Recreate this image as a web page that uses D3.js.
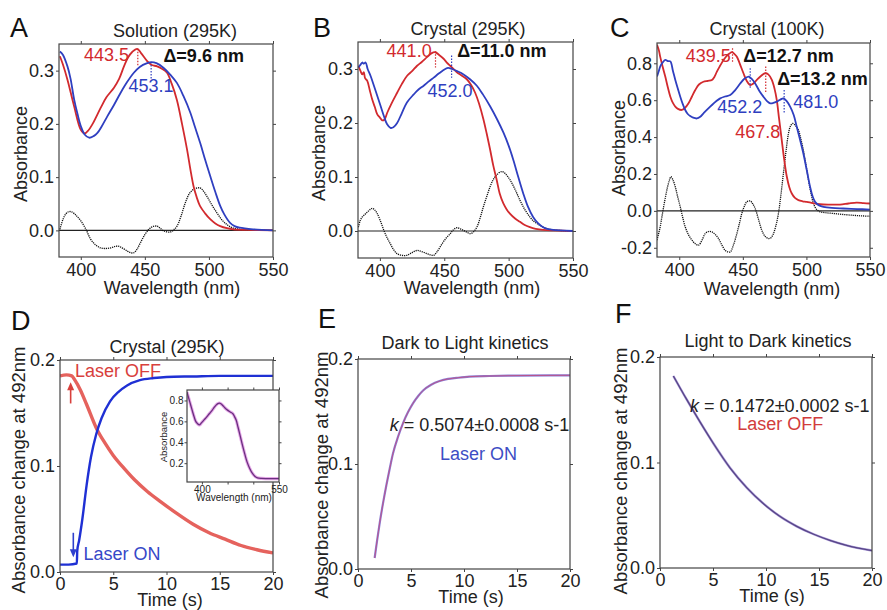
<!DOCTYPE html>
<html>
<head>
<meta charset="utf-8">
<script src="https://cdn.jsdelivr.net/npm/d3@7"></script>
<style>
  body { margin: 0; background: #fff; }
  svg { font-family: "Liberation Sans", Arial, Helvetica, sans-serif; }
</style>
</head>
<body>
<svg id="fig" width="887" height="610"></svg>
<script>
// ---- data: [wavelength nm, absorbance] ----
const aRed = [[383.7,0.327],[386,0.312],[389.6,0.283],[394.8,0.233],[400,0.189],[403,0.182],[406,0.188],[409,0.199],[415.5,0.23],[420,0.25],[425.9,0.268],[430,0.285],[433.7,0.308],[437,0.325],[440.1,0.335],[444,0.341],[447,0.333],[451.8,0.318],[455,0.311],[459.6,0.308],[463,0.304],[467.3,0.296],[471,0.275],[475,0.245],[479,0.2],[482.9,0.152],[486,0.108],[488,0.083],[490.5,0.062],[493,0.046],[497,0.032],[501,0.021],[505,0.013],[508.8,0.008],[514,0.004],[519,0.002],[530,0.001],[550,0]];
const aBlue = [[383.7,0.336],[386,0.33],[389.6,0.308],[392,0.285],[394.8,0.246],[397.5,0.218],[400,0.196],[403,0.18],[406.5,0.174],[410,0.177],[413,0.183],[416.5,0.196],[420.7,0.214],[426,0.236],[431,0.258],[436,0.278],[441.4,0.296],[446,0.307],[451.8,0.314],[455,0.316],[459,0.314],[464.7,0.305],[470,0.292],[475,0.277],[480,0.253],[485.5,0.221],[489,0.195],[493.2,0.164],[497,0.133],[501,0.102],[505,0.072],[508.8,0.046],[512,0.03],[516.5,0.014],[520,0.008],[524,0.005],[534.7,0.002],[550,0]];
const aDiff = [[383.7,0.002],[386,0.02],[388.3,0.031],[390.5,0.035],[392.7,0.035],[396,0.029],[400,0.018],[404,0.002],[407.8,-0.017],[411.5,-0.027],[415.5,-0.033],[419,-0.034],[423.3,-0.033],[427,-0.03],[429.8,-0.03],[433,-0.034],[436.3,-0.039],[439,-0.042],[441.4,-0.042],[444,-0.035],[446.6,-0.023],[450,-0.008],[453.1,0.002],[456,0.007],[459.6,0.008],[462,0.004],[464.7,-0.001],[469.9,-0.003],[472.5,0.001],[475.1,0.008],[478,0.025],[481.6,0.052],[485,0.07],[488.1,0.077],[492.5,0.08],[495,0.076],[498.4,0.064],[502,0.049],[506.2,0.033],[510,0.02],[514,0.011],[518,0.005],[521.7,0.003],[528,0.001],[550,0]];

const bRed = [[383.3,0.306],[385,0.296],[386.3,0.29],[387.5,0.294],[388.5,0.283],[390.2,0.278],[392,0.262],[394,0.244],[396,0.23],[398,0.216],[400,0.21],[401.8,0.205],[403.5,0.206],[405.7,0.219],[409,0.236],[413.4,0.256],[417,0.272],[421,0.287],[425,0.296],[428.9,0.306],[432.5,0.313],[436.6,0.322],[440,0.329],[443,0.331],[446,0.326],[449.5,0.319],[452,0.312],[454.6,0.306],[459.8,0.294],[463.5,0.288],[467.5,0.281],[471,0.27],[474,0.256],[477,0.236],[480.4,0.207],[483,0.18],[485.6,0.151],[488,0.122],[490.7,0.095],[493,0.07],[495.9,0.051],[498.5,0.04],[501,0.032],[505,0.023],[508.8,0.017],[512.5,0.011],[516.5,0.007],[521,0.004],[526.8,0.002],[535,0.001],[550,0]];
const bBlue = [[383.3,0.303],[385,0.308],[386.3,0.312],[387.5,0.31],[388.9,0.312],[390.5,0.3],[392.8,0.287],[395.5,0.268],[398,0.25],[400.5,0.232],[403.1,0.213],[405.5,0.198],[408.2,0.191],[410.5,0.192],[413.4,0.2],[417,0.218],[421,0.238],[426.3,0.253],[430,0.262],[434,0.269],[438,0.277],[441.8,0.284],[446,0.292],[450.8,0.3],[453,0.302],[456,0.3],[460,0.296],[465,0.29],[470,0.281],[475.3,0.269],[480,0.253],[485.6,0.231],[491,0.207],[496,0.182],[500,0.158],[503.6,0.132],[507.5,0.1],[511.3,0.07],[515,0.045],[519,0.026],[523,0.014],[526.8,0.007],[530,0.004],[534.5,0.002],[550,0]];
const bDiff = [[383.3,0.007],[384.8,0.02],[386.3,0.026],[388,0.03],[390.2,0.035],[392,0.039],[394,0.042],[396,0.039],[398,0.032],[400.5,0.018],[403.1,0.001],[405.5,-0.012],[408.2,-0.024],[410.5,-0.034],[413.4,-0.042],[417,-0.045],[421,-0.045],[425,-0.04],[428.9,-0.036],[432.5,-0.038],[436.6,-0.042],[439,-0.044],[441.8,-0.045],[444.5,-0.038],[448.2,-0.024],[451.5,-0.013],[454.6,-0.005],[457,0.002],[459.8,0.006],[462.5,0.004],[465,0.001],[467.5,-0.002],[470,-0.005],[472.5,-0.002],[475.3,0.007],[478,0.025],[480.4,0.045],[483,0.064],[485.6,0.082],[488,0.095],[490.7,0.104],[494.6,0.11],[497.5,0.106],[501,0.095],[505,0.077],[508.8,0.057],[512.5,0.04],[516.5,0.026],[520,0.017],[524,0.011],[529,0.005],[534.5,0.002],[550,0]];

const cRed = [[382.5,0.9],[384,0.87],[385,0.836],[387,0.78],[389,0.728],[391,0.67],[393,0.619],[395,0.585],[396.9,0.565],[399,0.553],[402,0.547],[404.5,0.558],[407.3,0.583],[410,0.62],[412.6,0.655],[415.5,0.685],[419,0.7],[422.5,0.705],[425.7,0.71],[427.8,0.728],[429.6,0.755],[432,0.785],[434.8,0.818],[437.5,0.842],[439.5,0.853],[441.4,0.86],[443.5,0.85],[445.3,0.836],[447.5,0.8],[450.5,0.746],[453,0.705],[455.8,0.682],[458.3,0.69],[461,0.71],[464,0.73],[467.5,0.746],[470,0.74],[472.8,0.71],[475,0.66],[476.7,0.6],[478.5,0.5],[480.6,0.384],[482.5,0.28],[484.6,0.185],[486.5,0.13],[488.5,0.094],[491,0.07],[493.7,0.058],[497,0.052],[500.3,0.049],[505,0.042],[510.7,0.036],[518,0.034],[526.4,0.034],[533,0.04],[539.5,0.045],[545,0.042],[550,0.04]];
const cBlue = [[382.5,0.728],[384,0.76],[385,0.782],[387,0.805],[389,0.818],[391,0.812],[393,0.81],[395,0.76],[396.9,0.71],[399,0.66],[400.8,0.619],[402.7,0.58],[404.7,0.547],[406.7,0.525],[408.6,0.514],[411,0.505],[413.9,0.501],[416.5,0.51],[419.1,0.529],[422.5,0.553],[425.7,0.574],[429,0.594],[432.2,0.61],[436,0.62],[440.1,0.628],[444,0.655],[448,0.691],[451,0.715],[454.5,0.728],[457,0.715],[459.7,0.691],[463,0.65],[466.2,0.619],[469,0.595],[471.5,0.583],[474,0.585],[476.7,0.592],[479.5,0.603],[481.9,0.61],[484.5,0.595],[487.2,0.565],[490,0.52],[492.4,0.456],[495,0.385],[497.6,0.311],[500.3,0.22],[502.9,0.13],[504.8,0.08],[506.8,0.049],[510,0.03],[513.4,0.022],[520,0.016],[529,0.013],[540,0.01],[550,0.007]];
const cDiff = [[382.5,-0.159],[383.7,-0.125],[385,-0.087],[386.3,-0.035],[387.7,0.022],[389.3,0.08],[390.8,0.13],[392.2,0.165],[393.5,0.185],[395.2,0.165],[396.9,0.13],[398.8,0.075],[400.8,0.022],[402.7,-0.035],[404.7,-0.087],[407.3,-0.13],[410,-0.159],[412.6,-0.178],[415.2,-0.186],[417.8,-0.16],[420.4,-0.123],[423,-0.112],[425.7,-0.114],[428.3,-0.128],[430.9,-0.15],[433.5,-0.185],[436.1,-0.214],[438.2,-0.222],[440.1,-0.223],[442.6,-0.185],[445.3,-0.123],[447.3,-0.068],[449.2,-0.014],[451.2,0.025],[453.1,0.049],[455.8,0.054],[457.8,0.038],[459.7,0.013],[462.3,-0.045],[464.9,-0.105],[467.5,-0.138],[470.2,-0.15],[472.2,-0.145],[474.1,-0.123],[476,-0.08],[478,-0.014],[480,0.09],[481.9,0.203],[483.9,0.32],[485.9,0.42],[487.5,0.46],[489.3,0.474],[491.5,0.462],[493.7,0.438],[495.6,0.39],[497.6,0.329],[499.6,0.25],[501.6,0.167],[503.5,0.1],[505.5,0.04],[508,0.008],[510.7,-0.005],[515,-0.01],[521.2,-0.014],[528,-0.019],[536.9,-0.024],[543,-0.027],[550,-0.029]];

// inset of D: [nm, absorbance]
const insetSpec = [[371,0.88],[375,0.81],[378.4,0.752],[382,0.69],[385,0.641],[388,0.6],[391.5,0.578],[394,0.568],[396,0.568],[399,0.585],[404.6,0.616],[409,0.64],[414.4,0.673],[419,0.7],[424.2,0.736],[428,0.758],[431,0.77],[434,0.774],[437,0.768],[440.6,0.752],[445,0.728],[450.5,0.705],[455,0.69],[460.3,0.673],[463.5,0.645],[466.8,0.61],[470,0.55],[473.4,0.483],[478,0.39],[483.2,0.292],[488,0.21],[493,0.15],[498,0.105],[502.9,0.076],[508,0.06],[516,0.054],[530,0.053],[550,0.053]];

// kinetics: [time s, absorbance change at 492 nm]
const dOff = [[0,0.185],[0.6,0.186],[1.1,0.185],[1.4,0.181],[1.9,0.172],[2.5,0.158],[3.45,0.135],[4.2,0.122],[5,0.11],[6,0.098],[7,0.087],[8.2,0.076],[9.5,0.066],[11,0.055],[12.5,0.045],[14,0.037],[15.5,0.031],[17,0.025],[18.5,0.021],[20,0.018]];
const dOn = [[0,0.007],[0.8,0.007],[1.58,0.008],[1.62,0.02],[1.8,0.03],[2.1,0.05],[2.5,0.082],[2.9,0.108],[3.4,0.13],[3.9,0.145],[4.7,0.161],[5.5,0.17],[6.3,0.176],[7.5,0.181],[8.8,0.183],[10,0.184],[12.5,0.1845],[15,0.185],[20,0.185]];
const eOn = [[1.57,0.0105],[1.8,0.027],[2.05,0.044],[2.35,0.062],[2.68,0.08],[3.0,0.096],[3.3,0.11],[3.78,0.126],[4.25,0.139],[4.7,0.149],[5.2,0.158],[5.7,0.165],[6.14,0.17],[6.9,0.1755],[7.7,0.179],[8.5,0.181],[9.3,0.182],[10.5,0.1832],[12.4,0.1838],[15,0.1842],[20,0.1845]];
const fOff = [[1.26,0.182],[2.5,0.16],[3.8,0.138],[5.04,0.118],[6.6,0.095],[8.2,0.076],[9.76,0.061],[11.3,0.049],[12.9,0.0395],[14.5,0.032],[16.1,0.026],[17.6,0.0215],[20,0.0165]];

// peak markers [nm, from, to, colour]
const aMarks = [[444.5,0.341,0.308,"red"],[454.9,0.316,0.283,"blue"]];
const bMarks = [[443.2,0.333,0.303,"red"],[455.7,0.325,0.284,"blue"]];
const cMarks = [[441.9,0.881,0.809,"red"],[455.8,0.773,0.664,"blue"],[468,0.782,0.637,"red"],[482.5,0.655,0.528,"blue"]];

const wlTicks = [400,450,500,550];
const timeTicks = [0,5,10,15,20];

const RED = "#d22a2e", BLUE = "#2f3fc0";
const svg = d3.select("#fig");
const FF = "Liberation Sans, Arial, Helvetica, sans-serif";

function panel(p) {
  const g = svg.append("g");
  const x = d3.scaleLinear().domain(p.xd).range([p.x0, p.x1]);
  const y = d3.scaleLinear().domain(p.yd).range([p.y1, p.y0]);
  const fs = p.fs || 18, ts = p.ts || 3;
  const style = a => a.call(s => s.select(".domain").remove())
    .attr("font-family", FF).attr("font-size", fs)
    .call(s => s.selectAll("line").attr("stroke", "#444"))
    .call(s => s.selectAll("text").attr("fill", "#222"));
  g.append("g").attr("transform", `translate(${p.x0},0)`)
    .call(d3.axisLeft(y).tickValues(p.yt).tickSize(ts).tickPadding(p.tpy || 2).tickFormat(p.yf || (d => d.toFixed(1)))).call(style);
  g.append("g").attr("transform", `translate(${p.x1},0)`)
    .call(d3.axisRight(y).tickValues(p.yt).tickSize(ts).tickFormat("")).call(style);
  g.append("g").attr("transform", `translate(0,${p.y1})`)
    .call(d3.axisBottom(x).tickValues(p.xt).tickSize(ts).tickPadding(p.tpx || 3).tickFormat(p.xf || d3.format("d"))).call(style);
  g.append("g").attr("transform", `translate(0,${p.y0})`)
    .call(d3.axisTop(x).tickValues(p.xt).tickSize(ts).tickFormat("")).call(style);
  if (p.bg) g.append("rect").attr("x", p.x0).attr("y", p.y0).attr("width", p.x1 - p.x0).attr("height", p.y1 - p.y0).attr("fill", "#fff");
  const id = "clip" + p.name;
  svg.append("clipPath").attr("id", id).append("rect")
    .attr("x", p.x0).attr("y", p.y0).attr("width", p.x1 - p.x0).attr("height", p.y1 - p.y0);
  const plot = g.append("g").attr("clip-path", `url(#${id})`);
  const frame = () => g.append("rect").attr("x", p.x0).attr("y", p.y0)
    .attr("width", p.x1 - p.x0).attr("height", p.y1 - p.y0)
    .attr("fill", "none").attr("stroke", "#444").attr("stroke-width", 1.2);
  const line = d3.line().x(d => x(d[0])).y(d => y(d[1]))
    .curve(p.curve || d3.curveCatmullRom.alpha(0.5));
  const draw = (data, color, w, dash) => plot.append("path").datum(data)
    .attr("fill", "none").attr("stroke", color).attr("stroke-width", w)
    .attr("stroke-dasharray", dash || null).attr("stroke-linejoin", "round").attr("d", line);
  return { g, x, y, plot, frame, draw, p };
}

function text(g, xx, yy, s, o = {}) {
  return g.append("text").attr("x", xx).attr("y", yy)
    .attr("font-size", o.size || 18).attr("fill", o.fill || "#222")
    .attr("text-anchor", o.anchor || "start")
    .attr("font-weight", o.weight || null).text(s);
}
function vtext(g, xx, yy, s, size) {
  return g.append("text").attr("transform", `translate(${xx},${yy}) rotate(-90)`)
    .attr("text-anchor", "middle").attr("font-size", size || 18).attr("fill", "#222").text(s);
}

function spectrum(cfg) {
  const P = panel(cfg);
  P.plot.append("line").attr("x1", cfg.x0).attr("x2", cfg.x1)
    .attr("y1", P.y(0)).attr("y2", P.y(0)).attr("stroke", "#222").attr("stroke-width", 1.1);
  P.draw(cfg.diff, "#111", 1.3, "1.2,0.9");
  P.draw(cfg.red, RED, 1.8);
  P.draw(cfg.blue, BLUE, 1.8);
  cfg.marks.forEach(m => {
    P.plot.append("line").attr("x1", P.x(m[0])).attr("x2", P.x(m[0]))
      .attr("y1", P.y(m[1])).attr("y2", P.y(m[2]))
      .attr("stroke", m[3] === "red" ? RED : BLUE).attr("stroke-width", 1.2).attr("stroke-dasharray", "1.5,1.5");
  });
  P.frame();
  return P;
}

// ---------- A ----------
const A = spectrum({ name: "A", x0: 59, x1: 273, y0: 44, y1: 257, xd: [383, 550], yd: [-0.05, 0.35],
  xt: wlTicks, yt: [0, 0.1, 0.2, 0.3], red: aRed, blue: aBlue, diff: aDiff, marks: aMarks });
text(A.g, 175, 37, "Solution (295K)", { anchor: "middle" });
text(A.g, A.x(437.6), A.y(0.318), "443.5", { fill: RED, anchor: "end" });
text(A.g, A.x(437.3), A.y(0.259), "453.1", { fill: BLUE });
text(A.g, A.x(464.5), A.y(0.317), "\u0394=9.6 nm", { weight: "bold", fill: "#111" });

// ---------- B ----------
const B = spectrum({ name: "B", x0: 358, x1: 573, y0: 42, y1: 258, xd: [383, 550], yd: [-0.05, 0.35],
  xt: wlTicks, yt: [0, 0.1, 0.2, 0.3], red: bRed, blue: bBlue, diff: bDiff, marks: bMarks });
text(B.g, 468, 35, "Crystal (295K)", { anchor: "middle" });
text(B.g, B.x(440.2), B.y(0.322), "441.0", { fill: RED, anchor: "end" });
text(B.g, B.x(436.9), B.y(0.249), "452.0", { fill: BLUE });
text(B.g, B.x(460), B.y(0.322), "\u0394=11.0 nm", { weight: "bold", fill: "#111" });

// ---------- C ----------
const C = spectrum({ name: "C", x0: 657, x1: 870, y0: 43, y1: 257, xd: [382.5, 550], yd: [-0.25, 0.91],
  xt: wlTicks, yt: [-0.2, 0, 0.2, 0.4, 0.6, 0.8], red: cRed, blue: cBlue, diff: cDiff, marks: cMarks });
text(C.g, 767, 35, "Crystal (100K)", { anchor: "middle" });
text(C.g, C.x(440.5), C.y(0.807), "439.5", { fill: RED, anchor: "end" });
text(C.g, C.x(450.3), C.y(0.807), "\u0394=12.7 nm", { weight: "bold", fill: "#111" });
text(C.g, C.x(477), C.y(0.682), "\u0394=13.2 nm", { weight: "bold", fill: "#111" });
text(C.g, C.x(429.9), C.y(0.53), "452.2", { fill: BLUE });
text(C.g, C.x(489.6), C.y(0.557), "481.0", { fill: BLUE });
text(C.g, C.x(444), C.y(0.395), "467.8", { fill: RED });

// ---------- D ----------
const kinY = [0, 0.1, 0.2];
const mono = d3.curveMonotoneX;
const D = panel({ name: "D", x0: 60, x1: 273, y0: 360, y1: 572, xd: [0, 20], yd: [0, 0.2], xt: timeTicks, yt: kinY, curve: mono, tpx: 2 });
D.draw(dOff, "#e5625d", 3.4);
D.draw(dOn, "#1f30d4", 2.4);
D.frame();
text(D.g, 167, 353, "Crystal (295K)", { anchor: "middle" });
text(D.g, D.x(1.41), D.y(0.184), "Laser OFF", { fill: "#d8403c" });
text(D.g, D.x(2.2), D.y(0.011), "Laser ON", { fill: "#3648c8" });

function arrow(P, t, v1, v2, color) {
  const xx = P.x(t), ya = P.y(v1), yb = P.y(v2);
  const dir = yb > ya ? 1 : -1;
  P.g.append("line").attr("x1", xx).attr("x2", xx).attr("y1", ya).attr("y2", yb - dir * 6)
    .attr("stroke", color).attr("stroke-width", 1.6);
  P.g.append("path").attr("d", `M${xx - 3.5},${yb - dir * 8}L${xx + 3.5},${yb - dir * 8}L${xx},${yb}Z`).attr("fill", color);
}
arrow(D, 1.0, 0.159, 0.179, "#d8403c");
arrow(D, 1.25, 0.037, 0.014, "#2f40cc");

// inset
const I = panel({ name: "I", x0: 187, x1: 279, y0: 390, y1: 482, xd: [371, 550], yd: [0.02, 0.9],
  xt: wlTicks, yt: [0.2, 0.4, 0.6, 0.8], fs: 10, ts: 2.5, tpy: 1, tpx: 1, bg: true,
  xf: d => (d === 400 || d === 550) ? d : "" });
I.draw(insetSpec, "#e6a8e8", 3.2);
I.draw(insetSpec, "#6b2f80", 1.3);
I.frame();
text(I.g, 234, 501, "Wavelength (nm)", { anchor: "middle", size: 10 });
vtext(I.g, 167, 437, "Absorbance", 9.5);

// ---------- E ----------
const E = panel({ name: "E", x0: 358, x1: 570, y0: 359, y1: 569, xd: [0, 20], yd: [0, 0.2], xt: timeTicks, yt: kinY, curve: mono, tpx: 2 });
E.draw(eOn, "#8a7fd6", 2.2);
E.draw(eOn, "#c4477a", 0.8);
E.frame();
text(E.g, 465, 349, "Dark to Light kinetics", { anchor: "middle" });
const eK = text(E.g, E.x(3.0), E.y(0.131), "", {});
eK.append("tspan").attr("font-style", "italic").text("k");
eK.append("tspan").text(" = 0.5074\u00b10.0008 s-1");
text(E.g, E.x(7.74), E.y(0.104), "Laser ON", { fill: "#3d4dc4" });

// ---------- F ----------
const F = panel({ name: "F", x0: 660, x1: 872, y0: 357, y1: 568, xd: [0, 20], yd: [0, 0.2], xt: timeTicks, yt: kinY, curve: mono, tpx: 2 });
F.draw(fOff, "#a898d8", 2.4);
F.draw(fOff, "#574585", 1.3);
F.frame();
text(F.g, 768, 347, "Light to Dark kinetics", { anchor: "middle" });
const fK = text(F.g, F.x(2.84), F.y(0.148), "", {});
fK.append("tspan").attr("font-style", "italic").text("k");
fK.append("tspan").text(" = 0.1472\u00b10.0002 s-1");
text(F.g, F.x(7.28), F.y(0.131), "Laser OFF", { fill: "#d23c3c" });

// ---------- axis titles & panel letters ----------
vtext(svg, 27, 154, "Absorbance");
vtext(svg, 325, 153, "Absorbance");
vtext(svg, 625, 148, "Absorbance");
text(svg, 172, 294, "Wavelength (nm)", { anchor: "middle" });
text(svg, 472, 294, "Wavelength (nm)", { anchor: "middle" });
text(svg, 772, 295, "Wavelength (nm)", { anchor: "middle" });
vtext(svg, 25, 470, "Absorbance change at 492nm", 18.5);
vtext(svg, 328, 475, "Absorbance change at 492nm", 18.5);
vtext(svg, 627, 471, "Absorbance change at 492nm", 18.5);
text(svg, 170, 606, "Time (s)", { anchor: "middle" });
text(svg, 471, 603, "Time (s)", { anchor: "middle" });
text(svg, 772, 602, "Time (s)", { anchor: "middle" });

[["A", 10, 37], ["B", 313, 37], ["C", 610, 37], ["D", 11, 330], ["E", 318, 328], ["F", 615, 323]]
  .forEach(l => text(svg, l[1], l[2], l[0], { size: 27, fill: "#111" }));
</script>
</body>
</html>
